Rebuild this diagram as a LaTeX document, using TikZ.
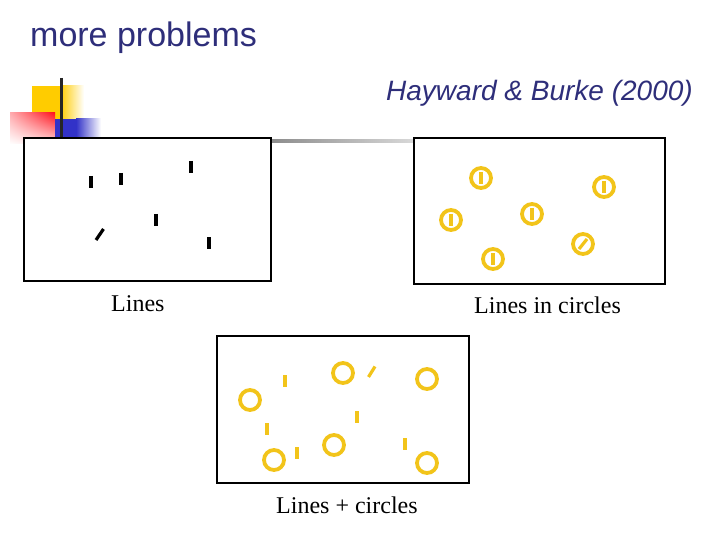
\documentclass[tikz,border=0pt]{standalone}
\usepackage{fontspec}
\setmainfont{Liberation Serif}
\newfontfamily\arialfont{Liberation Sans}
\usetikzlibrary{shadings}
\definecolor{titleblue}{RGB}{46,46,122}
\definecolor{ringyellow}{RGB}{242,196,26}
\definecolor{decoyellow}{RGB}{255,204,0}
\definecolor{decored}{RGB}{255,20,30}
\definecolor{decoblue}{RGB}{50,50,200}
\tikzset{
  panel/.style={draw=black, line width=1.2pt, fill=white},
  bar/.style={line width=3.2pt, black},
  ybar/.style={line width=3.2pt, ringyellow},
  ring/.style={draw=ringyellow, line width=3.8pt},
  caption/.style={anchor=base west, inner sep=0pt, font=\fontsize{24}{28}\selectfont},
}
\begin{document}
\begin{tikzpicture}[x=1pt,y=-1pt]
\useasboundingbox (0,0) rectangle (720,540);
\fill[white] (0,0) rectangle (720,540);

% title
\node[anchor=base west, inner sep=0pt, text=titleblue, font=\arialfont\fontsize{34}{40}\selectfont] (title) at (30,47) {more problems};
\node[anchor=base west, inner sep=0pt, text=titleblue, font=\arialfont\itshape\fontsize{28}{34}\selectfont] (ref) at (386,101) {Hayward \& Burke (2000)};

% decoration
\fill[decoyellow] (32,86) rectangle (60,119);
\shade[left color=decoyellow, right color=white] (60,86) rectangle (84,119);
\shade[upper right=decored, upper left=decored!35, lower right=decored!15, lower left=white] (10,113) rectangle (55,144);
\fill[decoblue] (55,119) rectangle (76,138);
\shade[left color=decoblue, right color=white] (76,119) rectangle (101,138);
\draw[line width=3pt, black!85] (61.5,78) -- (61.5,138);

% connecting gray line
\shade[left color=black!45, right color=black!15] (271,139.5) rectangle (414,142.5);

% panel 1: lines
\draw[panel] (24,138) rectangle (271,281);
\draw[bar] (91,176) -- (91,188);
\draw[bar] (121,173) -- (121,185);
\draw[bar] (191,161) -- (191,173);
\draw[bar] (156,214) -- (156,226);
\draw[bar] (209,237) -- (209,249);
\draw[bar] (96,240) -- (103.5,229);
\node[caption] (c1) at (111,311) {Lines};

% panel 2: lines in circles
\draw[panel] (414,138) rectangle (665,284);
\foreach \x/\y in {481/178, 604/187, 451/220, 532/214, 493/259}{
  \draw[ring] (\x,\y) circle (10);
  \draw[ybar] (\x,\y-6) -- (\x,\y+6);
}
\draw[ring] (583,244) circle (10);
\draw[ybar] (579,249) -- (587,239);
\node[caption] (c2) at (474,313) {Lines in circles};

% panel 3: lines + circles
\draw[panel] (217,336) rectangle (469,483);
\foreach \x/\y in {343/373, 427/379, 250/400, 334/445, 274/460, 427/463}{
  \draw[ring] (\x,\y) circle (10);
}
\draw[ybar] (285,375) -- (285,387);
\draw[ybar] (357,411) -- (357,423);
\draw[ybar] (267,423) -- (267,435);
\draw[ybar] (297,447) -- (297,459);
\draw[ybar] (405,438) -- (405,450);
\draw[ybar] (368.5,377) -- (375,366.5);
\node[caption] (c3) at (276,513) {Lines + circles};
\end{tikzpicture}
\end{document}
